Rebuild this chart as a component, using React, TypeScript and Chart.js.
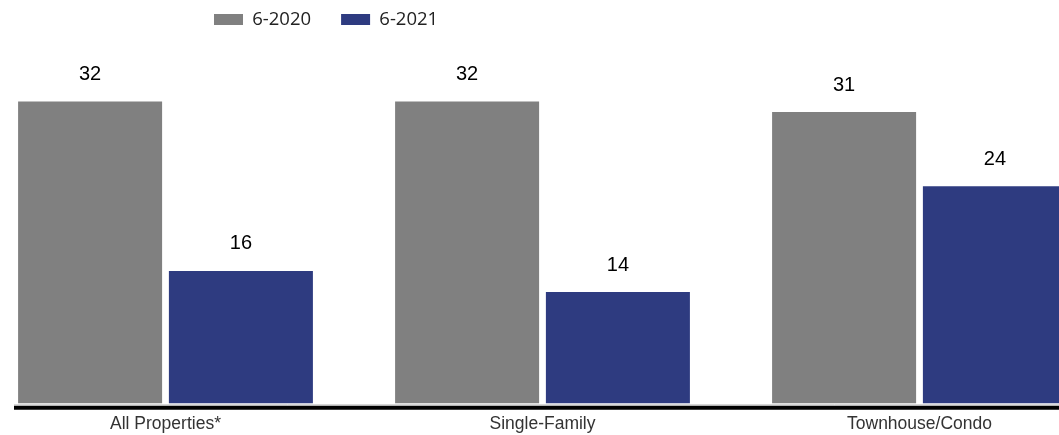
import { useEffect, useRef } from "react";
import { Chart, registerables } from "chart.js";

Chart.register(...registerables);

const categories = ["All Properties*", "Single-Family", "Townhouse/Condo"];
const seriesNames = ["6-2020", "6-2021"];
const values2020 = [32, 32, 31];
const values2021 = [16, 14, 24];
const seriesColors = ["#808080", "#2E3B80"];

const Y_MIN = 3.5;
const Y_MAX = 36.06;

const LEGEND_FONT = 18.5;

const valueLabels = {
  id: "valueLabels",
  afterDatasetsDraw(chart: any) {
    const ctx = chart.ctx;
    ctx.save();
    ctx.font = '20px "Liberation Sans", Arial, sans-serif';
    ctx.fillStyle = "#000";
    ctx.textAlign = "center";
    ctx.textBaseline = "middle";
    chart.data.datasets.forEach((ds: any, di: number) => {
      const meta = chart.getDatasetMeta(di);
      meta.data.forEach((bar: any, i: number) => {
        ctx.fillText(String(ds.data[i]), bar.x, bar.y - 27);
      });
    });
    ctx.restore();
  },
};

const axisLine = {
  id: "axisLine",
  afterDraw(chart: any) {
    const ctx = chart.ctx;
    const b = chart.chartArea.bottom;
    const x0 = 37;
    const x1 = chart.width;
    ctx.save();
    ctx.strokeStyle = "#c8c8c8";
    ctx.lineWidth = 1;
    ctx.beginPath();
    ctx.moveTo(x0, b + 1.5);
    ctx.lineTo(x1, b + 1.5);
    ctx.stroke();
    ctx.strokeStyle = "#000";
    ctx.lineWidth = 4;
    ctx.beginPath();
    ctx.moveTo(x0, b + 4.5);
    ctx.lineTo(x1, b + 4.5);
    ctx.stroke();
    ctx.restore();
  },
};

const legendShift = {
  id: "legendShift",
  afterLayout(chart: any) {
    const lg = chart.legend;
    if (!lg) return;
    const pad = lg.options.labels.padding;
    lg.left = 237 - pad;
    lg.top = 19.5 - pad - LEGEND_FONT / 2;
  },
};

export default function App() {
  const ref = useRef<HTMLCanvasElement | null>(null);

  useEffect(() => {
    if (!ref.current) return;
    const chart = new Chart(ref.current, {
      type: "bar",
      data: {
        labels: categories,
        datasets: [
          {
            label: seriesNames[0],
            data: values2020,
            backgroundColor: seriesColors[0],
            borderWidth: 0,
          },
          {
            label: seriesNames[1],
            data: values2021,
            backgroundColor: seriesColors[1],
            borderWidth: 0,
          },
        ],
      },
      options: {
        animation: false,
        responsive: true,
        maintainAspectRatio: false,
        layout: { padding: { left: 0, right: 0, top: 0, bottom: 0 } },
        datasets: {
          bar: { categoryPercentage: 0.8, barPercentage: 0.955 },
        },
        plugins: {
          tooltip: { enabled: false },
          legend: {
            display: true,
            position: "top",
            align: "start",
            labels: {
              boxWidth: 29,
              boxHeight: 11,
              padding: 30,
              color: "#222",
              font: { family: '"Open Sans", sans-serif', size: LEGEND_FONT },
            },
          },
        },
        scales: {
          x: {
            grid: { display: false, drawTicks: false },
            border: { display: false },
            ticks: {
              color: "#333",
              padding: 10,
              font: { family: '"Liberation Sans", Arial, sans-serif', size: 17.5 },
            },
            afterFit: (scale: any) => {
              scale.height = 31.7;
            },
          },
          y: {
            display: false,
            min: Y_MIN,
            max: Y_MAX,
          },
        },
      },
      plugins: [valueLabels, axisLine, legendShift],
    });
    return () => chart.destroy();
  }, []);

  return (
    <div
      style={{
        position: "fixed",
        left: 0,
        top: 0,
        width: 1059,
        height: 435,
        overflow: "hidden",
        background: "#fff",
      }}
    >
      <div style={{ position: "absolute", left: -23, top: 0, width: 1131, height: 435 }}>
        <canvas ref={ref} style={{ display: "block" }} />
      </div>
    </div>
  );
}
